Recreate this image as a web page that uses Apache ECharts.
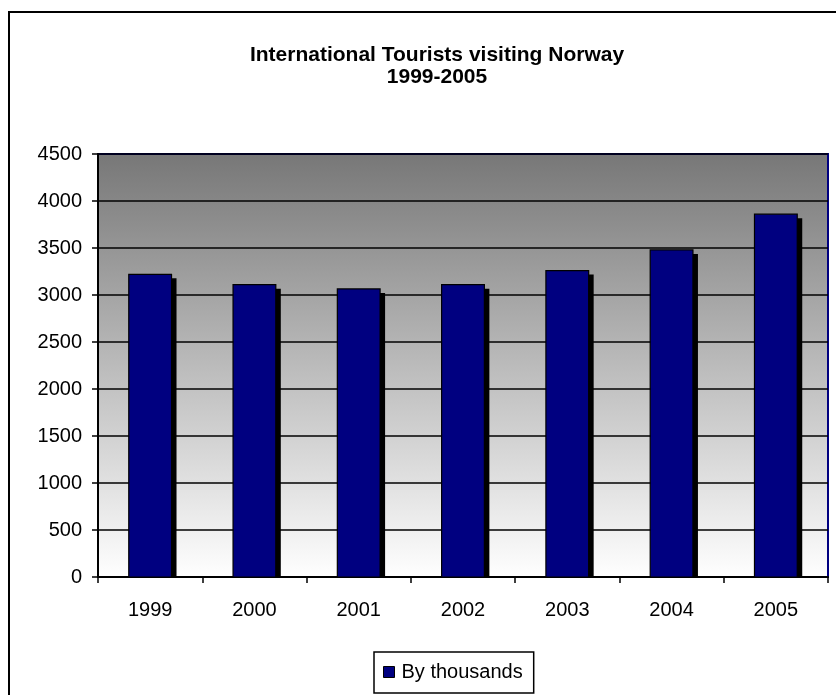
<!DOCTYPE html>
<html>
<head>
<meta charset="utf-8">
<script src="https://cdn.jsdelivr.net/npm/echarts@6/dist/echarts.min.js"></script>
<style>html,body{margin:0;padding:0;background:#fff}#c{width:836px;height:695px}</style>
</head>
<body>
<div id="c"></div>
<script>
const categories = ['1999', '2000', '2001', '2002', '2003', '2004', '2005'];
const visitors = [3220, 3110, 3065, 3110, 3260, 3480, 3860];
const seriesName = 'By thousands';
const titleLines = ['International Tourists visiting Norway', '1999-2005'];
const yMin = 0, yMax = 4500, yStep = 500;

const chart = echarts.init(document.getElementById('c'), null, {renderer: 'canvas'});
const FONT = '"Liberation Sans", Arial, sans-serif';
const BAR_FRAC = 0.41, SH_X = 5, SH_Y = 4;

function renderBar(params, api) {
  const idx = api.value(0);
  const top = api.coord([idx, api.value(1)]);
  const base = api.coord([idx, 0]);
  const band = api.size([1, 0])[0];
  const w = band * BAR_FRAC;
  const x = top[0] - w / 2;
  const h = base[1] - top[1];
  return {
    type: 'group',
    children: [
      {type: 'rect', shape: {x: x + SH_X, y: top[1] + SH_Y, width: w, height: Math.max(0, h - SH_Y)},
       style: {fill: '#000'}},
      {type: 'rect', shape: {x: x, y: top[1], width: w, height: h},
       style: {fill: '#000080', stroke: '#000', lineWidth: 1.2}}
    ]
  };
}

chart.setOption({
  animation: false,
  backgroundColor: '#fff',
  title: {
    text: titleLines.join('\n'),
    left: 432, top: 39, textAlign: 'center',
    textStyle: {fontFamily: FONT, fontSize: 21, fontWeight: 'bold', color: '#000', lineHeight: 22}
  },
  graphic: [{
    type: 'rect', z: -1, silent: true,
    shape: {x: 9, y: 12, width: 900, height: 800},
    style: {fill: null, stroke: '#000', lineWidth: 2}
  }],
  grid: {
    left: 98, top: 154, width: 730, height: 423,
    show: true,
    borderColor: '#000080', borderWidth: 2,
    backgroundColor: {type: 'linear', x: 0, y: 0, x2: 0, y2: 1,
      colorStops: [{offset: 0, color: '#777777'}, {offset: 1, color: '#ffffff'}]}
  },
  legend: {
    data: [seriesName],
    left: 374, top: 652,
    padding: [10, 11, 11, 9],
    borderColor: '#000', borderWidth: 1.5,
    itemWidth: 11, itemHeight: 11, itemGap: 5,
    icon: 'rect',
    itemStyle: {color: '#000080', borderColor: '#000', borderWidth: 1},
    textStyle: {fontFamily: FONT, fontSize: 20, color: '#000', padding: [0, 0, 0, 2]}
  },
  xAxis: {
    type: 'category', data: categories,
    boundaryGap: true,
    axisLine: {show: true, lineStyle: {color: '#000', width: 2}},
    axisTick: {show: true, length: 6, lineStyle: {color: '#000', width: 1.5}},
    axisLabel: {fontFamily: FONT, fontSize: 20, color: '#000', margin: 23},
    splitLine: {show: false}
  },
  yAxis: {
    type: 'value', min: yMin, max: yMax, interval: yStep,
    axisLine: {show: true, lineStyle: {color: '#000', width: 2}},
    axisTick: {show: true, length: 6, lineStyle: {color: '#000', width: 1.5}},
    axisLabel: {fontFamily: FONT, fontSize: 20, color: '#000', margin: 16, formatter: v => String(v)},
    splitLine: {show: true, lineStyle: {color: '#000', width: 1.5}}
  },
  series: [{
    name: seriesName, type: 'custom',
    data: visitors.map((v, i) => [i, v]),
    encode: {x: 0, y: 1},
    itemStyle: {color: '#000080', borderColor: '#000', borderWidth: 1},
    renderItem: renderBar,
    z: 3
  }]
});
</script>
</body>
</html>
